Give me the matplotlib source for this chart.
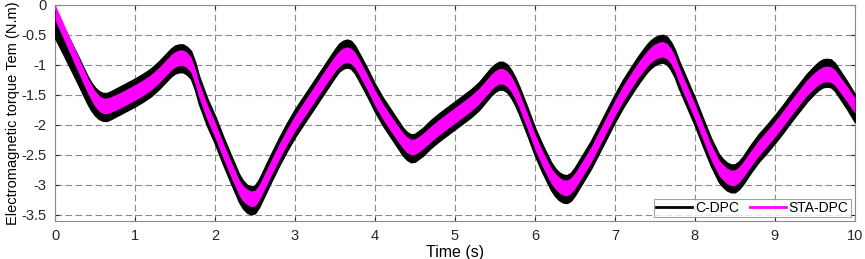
import matplotlib
matplotlib.use("Agg")
import matplotlib.pyplot as plt
import numpy as np

# Time samples (s), denser around the extrema
time_s = [
    0.0, 0.1, 0.2, 0.3, 0.4, 0.45, 0.5, 0.55, 0.6, 0.65, 0.7, 0.8, 0.9,
    1.0, 1.1, 1.2, 1.3, 1.4, 1.45, 1.5, 1.55, 1.6, 1.65, 1.7, 1.75, 1.8, 1.9,
    2.0, 2.1, 2.2, 2.3, 2.35, 2.4, 2.45, 2.5, 2.55, 2.6, 2.7, 2.8, 2.9,
    3.0, 3.1, 3.2, 3.3, 3.4, 3.5, 3.55, 3.6, 3.65, 3.7, 3.75, 3.8, 3.9,
    4.0, 4.1, 4.2, 4.3, 4.35, 4.4, 4.45, 4.5, 4.55, 4.6, 4.7, 4.8, 4.9,
    5.0, 5.1, 5.2, 5.3, 5.4, 5.45, 5.5, 5.55, 5.6, 5.65, 5.7, 5.75, 5.8, 5.9,
    6.0, 6.1, 6.2, 6.25, 6.3, 6.35, 6.4, 6.45, 6.5, 6.6, 6.7, 6.8, 6.9,
    7.0, 7.1, 7.2, 7.3, 7.4, 7.45, 7.5, 7.55, 7.6, 7.65, 7.7, 7.75, 7.8, 7.9,
    8.0, 8.1, 8.2, 8.3, 8.35, 8.4, 8.45, 8.5, 8.55, 8.6, 8.7, 8.8, 8.9,
    9.0, 9.1, 9.2, 9.3, 9.4, 9.5, 9.55, 9.6, 9.65, 9.7, 9.75, 9.8, 9.9,
    10.0,
]

# STA-DPC torque, middle of the ripple band (N.m)
sta_dpc_mean = [
    -0.12, -0.42, -0.72, -1.02, -1.32, -1.45, -1.56, -1.64, -1.68, -1.68, -1.66, -1.60, -1.53,
    -1.46, -1.38, -1.29, -1.17, -1.03, -0.96, -0.91, -0.88, -0.88, -0.92, -1.00, -1.18, -1.42, -1.78,
    -2.08, -2.42, -2.74, -3.04, -3.14, -3.20, -3.23, -3.22, -3.13, -3.00, -2.72, -2.45, -2.20,
    -1.97, -1.77, -1.57, -1.37, -1.17, -0.98, -0.90, -0.85, -0.83, -0.85, -0.92, -1.03, -1.28,
    -1.55, -1.78, -1.98, -2.17, -2.26, -2.33, -2.37, -2.36, -2.32, -2.27, -2.15, -2.04, -1.94,
    -1.84, -1.74, -1.64, -1.52, -1.37, -1.29, -1.23, -1.19, -1.19, -1.23, -1.31, -1.43, -1.58, -1.92,
    -2.28, -2.58, -2.84, -2.93, -3.00, -3.04, -3.05, -3.01, -2.93, -2.72, -2.50, -2.24, -1.98,
    -1.72, -1.48, -1.27, -1.07, -0.90, -0.83, -0.78, -0.75, -0.74, -0.77, -0.85, -0.98, -1.16, -1.47,
    -1.78, -2.12, -2.45, -2.71, -2.79, -2.85, -2.88, -2.88, -2.83, -2.75, -2.56, -2.38, -2.23,
    -2.07, -1.90, -1.72, -1.55, -1.38, -1.25, -1.20, -1.16, -1.15, -1.16, -1.21, -1.30, -1.48,
    -1.68,
]

# C-DPC torque, middle of the ripple band (N.m)
c_dpc_mean = [
    -0.32, -0.58, -0.85, -1.12, -1.40, -1.52, -1.61, -1.67, -1.70, -1.70, -1.67, -1.60, -1.53,
    -1.46, -1.38, -1.29, -1.17, -1.03, -0.96, -0.91, -0.89, -0.89, -0.93, -1.00, -1.18, -1.42, -1.78,
    -2.08, -2.42, -2.74, -3.05, -3.16, -3.23, -3.26, -3.24, -3.14, -3.00, -2.72, -2.45, -2.20,
    -1.97, -1.77, -1.57, -1.37, -1.17, -0.97, -0.88, -0.83, -0.81, -0.83, -0.91, -1.03, -1.28,
    -1.55, -1.78, -1.98, -2.18, -2.28, -2.35, -2.39, -2.38, -2.33, -2.28, -2.15, -2.04, -1.94,
    -1.84, -1.74, -1.64, -1.52, -1.36, -1.28, -1.22, -1.18, -1.18, -1.22, -1.31, -1.43, -1.58, -1.92,
    -2.28, -2.58, -2.85, -2.95, -3.02, -3.06, -3.07, -3.03, -2.94, -2.72, -2.50, -2.24, -1.98,
    -1.72, -1.48, -1.27, -1.07, -0.89, -0.82, -0.77, -0.74, -0.73, -0.76, -0.85, -0.98, -1.16, -1.47,
    -1.78, -2.12, -2.45, -2.72, -2.80, -2.86, -2.89, -2.89, -2.84, -2.76, -2.56, -2.38, -2.23,
    -2.07, -1.90, -1.72, -1.55, -1.38, -1.24, -1.18, -1.14, -1.13, -1.14, -1.20, -1.30, -1.50,
    -1.72,
]

# Half peak-to-peak ripple of each method (N.m)
c_dpc_ripple = 0.23
sta_dpc_ripple = 0.13

series_labels = ["C-DPC", "STA-DPC"]
series_colors = ["black", "#ff00ff"]

x_ticks = list(range(0, 11))
y_ticks = [0, -0.5, -1, -1.5, -2, -2.5, -3, -3.5]
y_tick_labels = ["0", "-0.5", "-1", "-1.5", "-2", "-2.5", "-3", "-3.5"]

plt.rcParams["font.family"] = ["Liberation Sans", "DejaVu Sans"]

fig = plt.figure(figsize=(8.65, 2.59), dpi=100)
ax = fig.add_axes([0.0636, 0.147, 0.9247, 0.834])

t = np.array(time_s)
c = np.array(c_dpc_mean)
s = np.array(sta_dpc_mean)

ax.fill_between(t, c - c_dpc_ripple, c + c_dpc_ripple, color=series_colors[0],
                linewidth=1.2, edgecolor=series_colors[0], zorder=3)
ax.fill_between(t, s - sta_dpc_ripple, s + sta_dpc_ripple, color=series_colors[1],
                linewidth=0, zorder=4)

# legend proxies
h1, = ax.plot([], [], color=series_colors[0], lw=2, label=series_labels[0])
h2, = ax.plot([], [], color=series_colors[1], lw=2, label=series_labels[1])

ax.set_xlim(0, 10)
ax.set_ylim(-3.6, 0)
ax.set_xticks(x_ticks)
ax.set_yticks(y_ticks)
ax.set_yticklabels(y_tick_labels)
ax.tick_params(direction="in", length=3, labelsize=10.5, colors="#262626",
               top=True, right=True, pad=6)
for side in ax.spines.values():
    side.set_color("#8c8c8c")
    side.set_linewidth(0.8)

ax.grid(True, linestyle=(0, (6, 3)), color="#8a8a8a", linewidth=0.8, zorder=1)
ax.set_axisbelow(True)

ax.set_xlabel("Time (s)", fontsize=11.5, labelpad=1)
ax.set_ylabel("Electromagnetic torque Tem (N.m)", fontsize=10.5, labelpad=1)

leg = ax.legend(handles=[h1, h2], loc="lower right", ncol=2, fontsize=10,
                frameon=True, fancybox=False, borderpad=0.15, handlelength=2.6,
                handletextpad=0.2, columnspacing=0.8, borderaxespad=0.3)
leg.get_frame().set_edgecolor("#8c8c8c")
leg.get_frame().set_linewidth(0.8)
leg.set_zorder(10)

fig.savefig("out.png", dpi=100)
